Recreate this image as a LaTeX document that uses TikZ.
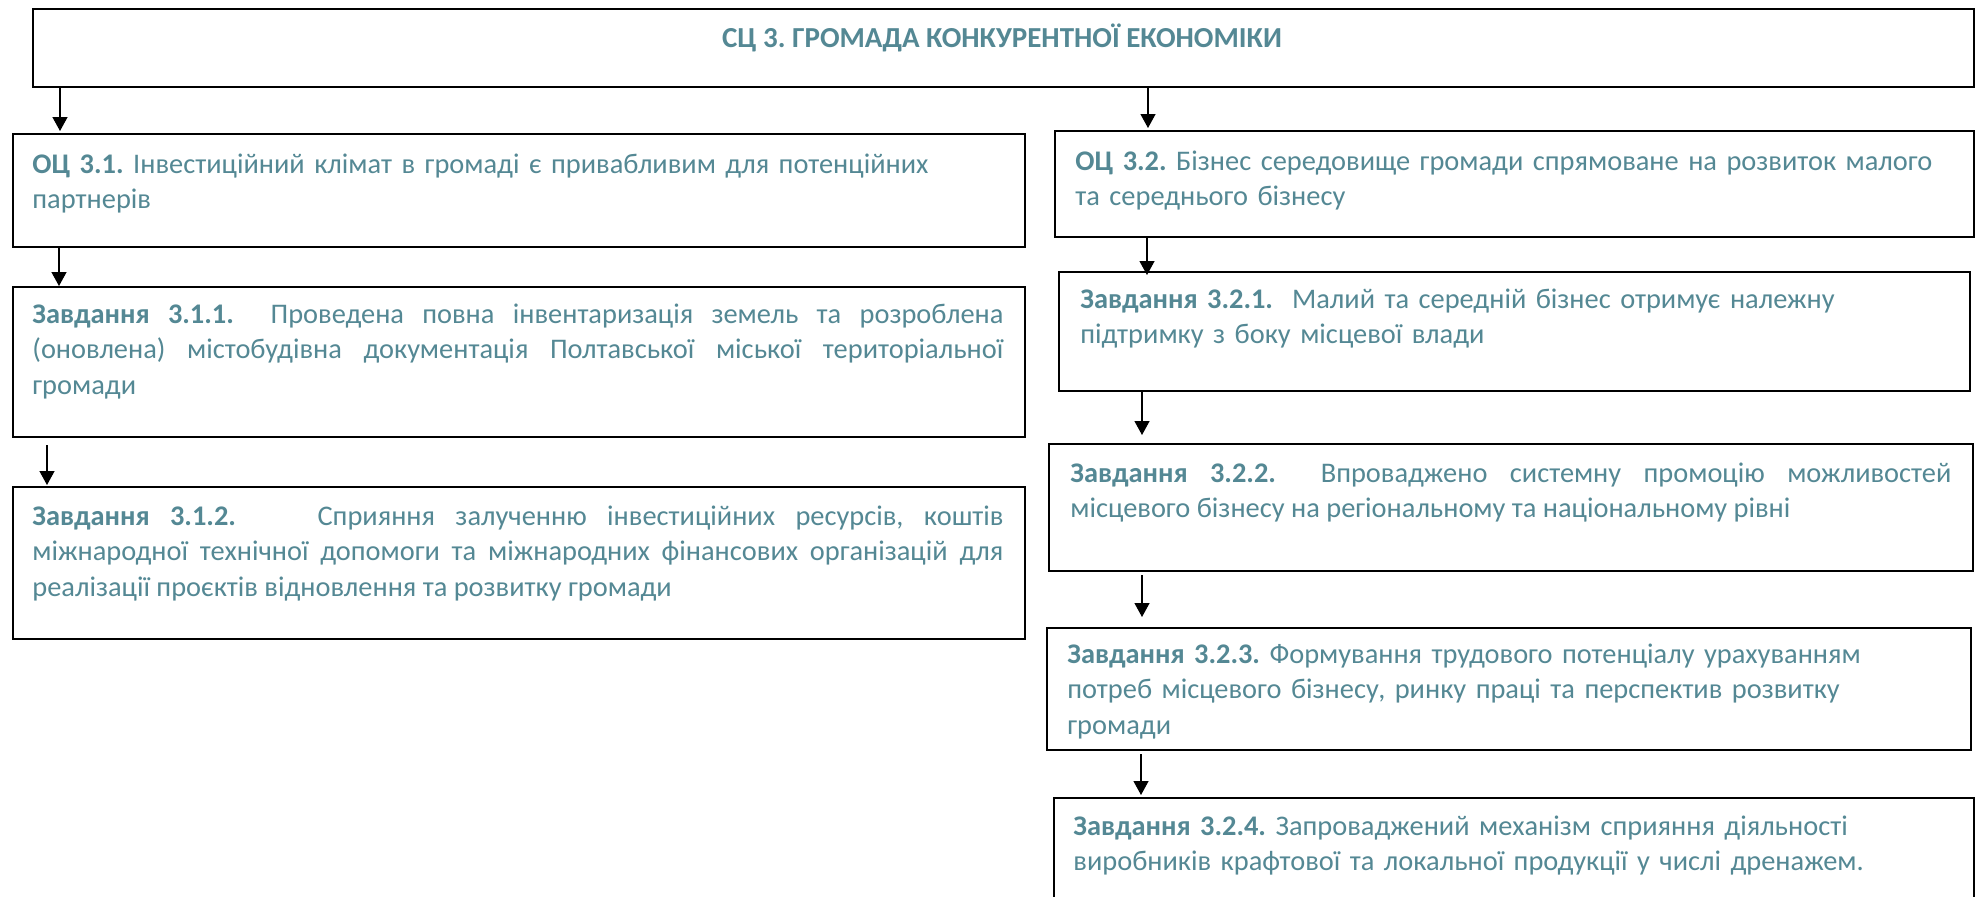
\documentclass[tikz,border=0pt]{standalone}
\usepackage{fontspec}
\setmainfont{Carlito}
\usetikzlibrary{arrows.meta}
\definecolor{tekst}{RGB}{84,136,148}
\frenchspacing

\begin{document}
\begin{tikzpicture}[x=0.5pt,y=-0.5pt,
  blk/.style={draw,line width=1pt,inner sep=0pt,anchor=north west},
  txt/.style={anchor=base west,inner sep=0pt,text=tekst,font=\fontsize{14.2pt}{17.75pt}\selectfont},
  rag/.style={txt,text width=#1,align=left},
  jus/.style={txt,text width=#1,align=justify},
  arr/.style={-{Triangle[width=7.5pt,length=7pt]},line width=0.65pt}]
\path[fill=white,use as bounding box] (0,0) rectangle (1975,896);

% boxes
\node[blk,minimum width=970.5pt,minimum height=39pt]   (sc3)  at (32,8)    {};
\node[blk,minimum width=506pt,minimum height=56.5pt]   (oc31) at (12,133)  {};
\node[blk,minimum width=506pt,minimum height=75pt]     (z311) at (12,286)  {};
\node[blk,minimum width=506pt,minimum height=76pt]     (z312) at (12,486)  {};
\node[blk,minimum width=459.5pt,minimum height=53pt]   (oc32) at (1054,130) {};
\node[blk,minimum width=455.5pt,minimum height=59.5pt] (z321) at (1058,271) {};
\node[blk,minimum width=462pt,minimum height=63.5pt]   (z322) at (1048,443) {};
\node[blk,minimum width=462pt,minimum height=61pt]     (z323) at (1046,627) {};
\node[blk,minimum width=460pt,minimum height=53pt]     (z324) at (1053,797) {};

% texts
\node[txt,anchor=base,font=\bfseries\fontsize{14.5pt}{17pt}\selectfont] (sc3t) at (1002,47)
  {СЦ 3. ГРОМАДА КОНКУРЕНТНОЇ ЕКОНОМІКИ};
\node[rag=490pt] (oc31t) at (32,173)
  {\textbf{ОЦ 3.1.} Інвестиційний клімат в громаді є привабливим для потенційних\\партнерів};
\node[jus=485.5pt] (z311t) at (32,323)
  {\textbf{Завдання 3.1.1.}\ \ Проведена повна інвентаризація земель та розроблена\linebreak
   (оновлена) містобудівна документація Полтавської міської територіальної\linebreak
   громади};
\node[jus=485.5pt] (z312t) at (32,525)
  {\textbf{Завдання 3.1.2.}\ \ \ \ Сприяння залученню інвестиційних ресурсів, коштів\linebreak
   міжнародної технічної допомоги та міжнародних фінансових організацій для\linebreak
   реалізації проєктів відновлення та розвитку громади};
\node[rag=448pt] (oc32t) at (1075,170)
  {\textbf{ОЦ 3.2.} Бізнес середовище громади спрямоване на розвиток малого\\та середнього бізнесу};
\node[rag=440pt] (z321t) at (1080,308)
  {\textbf{Завдання 3.2.1.}\ \ Малий та середній бізнес отримує належну\\підтримку з боку місцевої влади};
\node[jus=440.5pt] (z322t) at (1070,482)
  {\textbf{Завдання 3.2.2.}\ \ Впроваджено системну промоцію можливостей\linebreak
   місцевого бізнесу на регіональному та національному рівні};
\node[rag=448pt] (z323t) at (1067,663)
  {\textbf{Завдання 3.2.3.} Формування трудового потенціалу урахуванням\\потреб місцевого бізнесу, ринку праці та перспектив розвитку\\громади};
\node[rag=448pt] (z324t) at (1073,835)
  {\textbf{Завдання 3.2.4.} Запроваджений механізм сприяння діяльності\\виробників крафтової та локальної продукції у числі дренажем.};

% arrows
\draw[arr] ([xshift=14pt]sc3.south west) -- ([xshift=24pt,yshift=1pt]oc31.north west);
\draw[arr] ([xshift=558pt]sc3.south west) -- ([xshift=47pt,yshift=1pt]oc32.north west);
\draw[arr] ([xshift=23.5pt]oc31.south west) -- ([xshift=23.5pt]z311.north west);
\draw[arr] ([xshift=46.5pt]oc32.south west) -- ([xshift=44.5pt,yshift=-2pt]z321.north west);
\draw[arr] ([xshift=17.5pt,yshift=-3.5pt]z311.south west) -- ([xshift=17.5pt,yshift=0.5pt]z312.north west);
\draw[arr] ([xshift=42pt]z321.south west) -- ([xshift=47pt,yshift=4pt]z322.north west);
\draw[arr] ([xshift=47pt,yshift=-1.5pt]z322.south west) -- ([xshift=48pt,yshift=5pt]z323.north west);
\draw[arr] ([xshift=47.5pt,yshift=-1.5pt]z323.south west) -- ([xshift=44pt,yshift=1pt]z324.north west);
\end{tikzpicture}
\end{document}
